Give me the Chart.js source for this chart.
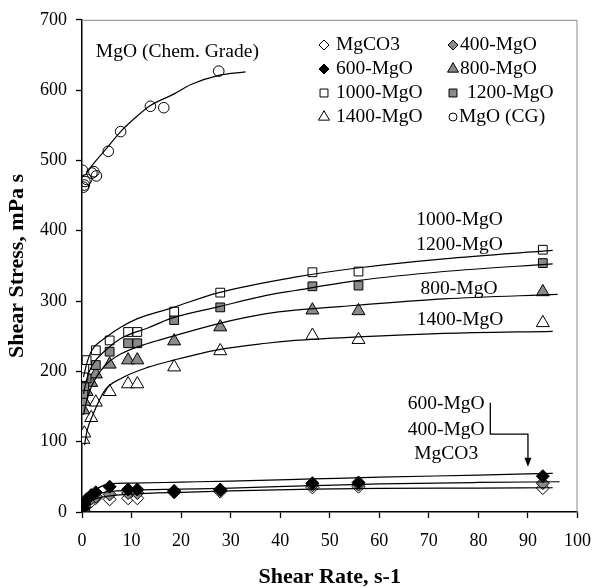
<!DOCTYPE html>
<html><head><meta charset="utf-8">
<script src="https://cdn.jsdelivr.net/npm/chart.js@4.4.1/dist/chart.umd.min.js"></script>
<style>html,body{margin:0;padding:0;background:#fff}#wrap{width:603px;height:588px}</style>
</head><body><div id="wrap"><canvas id="c" width="603" height="588"></canvas></div>
<script>
// ---------- data ----------
const shearRate = [0.28, 0.47, 0.93, 1.86, 2.79, 5.58, 9.3, 11.16, 18.6, 27.9, 46.5, 55.8, 93];
const mgco3   = [2, 6, 10, 15, 20, 18, 19.5, 19.5, 28, 29, 35, 36, 34];
const mgo400  = [3, 8, 14, 19, 22, 25, 27, 27, 29, 31, 38, 39, 41];
const mgo600  = [5, 12, 18, 24, 28, 36, 32, 32, 30, 32, 41, 42, 51];
const mgo800  = [145, 157, 171, 184, 196, 210, 216, 216, 243, 263, 287, 286, 313];
const mgo1000 = [192, 204, 216, null, 230, 244, 256, 256, 285, 312, 341, 342, 373];
const mgo1200 = [168, 179, 190, null, 209, 228, 240, 240, 273, 291, 321, 322, 354];
const mgo1400 = [103, 112, null, 134, 156, 171, 182, 182, 206, 229, 251, 245, 269];
const cgRate   = [0.1, 0.28, 0.47, 0.6, 0.93, 2.0, 2.4, 2.9, 5.3, 7.8, 13.8, 16.5, 27.6];
const cgStress = [486, 462, 465, 470, 473, 482, 484, 478, 513, 541, 577, 575, 627];

// fitted trend curves
const fitCgX    = [0.9, 3, 5.3, 7.8, 10.8, 13.8, 18.7, 22, 27.6, 33];
const fitCgY    = [483, 501, 520, 541, 561, 578, 595, 608, 621, 626];
const fit1000X  = [0.3, 1, 2, 4.6, 7.9, 11.2, 18, 27.6, 43, 55.6, 73, 95];
const fit1000Y  = [192, 212, 230, 247, 263, 275, 290, 312, 334, 347, 360, 372];
const fit1200X  = [0.3, 1, 2, 4.6, 7.9, 13.4, 17.8, 27.6, 37.2, 43, 55.6, 73, 95];
const fit1200Y  = [168, 190, 208, 229, 247, 262, 275, 292, 308, 315, 329, 342, 353];
const fit800X   = [0.3, 1, 2, 4.6, 7.9, 13.4, 17.8, 27.6, 37.2, 43, 55.6, 73, 96];
const fit800Y   = [138, 160, 180, 208, 225, 240, 249, 268, 282, 287, 294, 303, 309.5];
const fit1400X  = [0.5, 1, 2, 4.6, 7.9, 13.4, 18.5, 27.6, 37.2, 43, 55.6, 73, 95];
const fit1400Y  = [95, 115, 135, 173, 190, 206, 216, 231, 240, 244, 249, 254, 257];
const fit600X   = [0.28, 1, 2, 3.5, 5.5, 10, 20, 30, 46.5, 60, 80, 95];
const fit600Y   = [3, 17, 27, 35, 40, 41, 42.5, 44, 47, 49.5, 52.5, 55];
const fit400X   = [0.28, 1, 2, 4, 7, 10, 20, 30, 46.5, 60, 80, 96.4];
const fit400Y   = [3, 14, 21, 27, 30, 31, 32.5, 34, 37.5, 40, 42, 43];
const fitCo3X   = [0.28, 1, 2, 4, 7, 10, 20, 30, 46.5, 60, 80, 95];
const fitCo3Y   = [2, 10, 16, 21, 24, 25.5, 28, 30, 32.5, 33.5, 34, 34.5];

const seriesNames = ['MgCO3', '400-MgO', '600-MgO', '800-MgO', '1000-MgO', '1200-MgO', '1400-MgO', 'MgO (CG)'];
const xTitle = 'Shear Rate, s-1';
const yTitle = 'Shear Stress, mPa s';

// ---------- styling / layout ----------
const FONT = '"Liberation Serif", "Times New Roman", Times, serif';
const GREY = '#8a8a8a';
const pts = (xs, ys) => xs.map((v, i) => ({x: v, y: ys[i]})).filter(p => p.y !== null);

const markerStyle = {
  'MgCO3':    {pointStyle: 'rectRot',  bg: '#ffffff', r: 6.5, lr: 5},
  '400-MgO':  {pointStyle: 'rectRot',  bg: GREY,      r: 6.5, lr: 5},
  '600-MgO':  {pointStyle: 'rectRot',  bg: '#000000', r: 6.5, lr: 5},
  '800-MgO':  {pointStyle: 'triangle', bg: GREY,      r: 7.5, lr: 6.3},
  '1000-MgO': {pointStyle: 'rect',     bg: '#ffffff', r: 6.2, lr: 5.6},
  '1200-MgO': {pointStyle: 'rect',     bg: GREY,      r: 6.2, lr: 5.6},
  '1400-MgO': {pointStyle: 'triangle', bg: '#ffffff', r: 7.5, lr: 6.3},
  'MgO (CG)': {pointStyle: 'circle',   bg: 'rgba(0,0,0,0)', r: 5.3, lr: 4}
};
const seriesData = {
  'MgCO3': pts(shearRate, mgco3), '400-MgO': pts(shearRate, mgo400), '600-MgO': pts(shearRate, mgo600),
  '800-MgO': pts(shearRate, mgo800), '1000-MgO': pts(shearRate, mgo1000), '1200-MgO': pts(shearRate, mgo1200),
  '1400-MgO': pts(shearRate, mgo1400), 'MgO (CG)': pts(cgRate, cgStress)
};
const drawOrder = {'600-MgO': 1, '400-MgO': 2, 'MgCO3': 3, '1000-MgO': 1, '1200-MgO': 2, '800-MgO': 3, '1400-MgO': 4, 'MgO (CG)': 1};

const datasets = [];
[[fitCgX, fitCgY], [fit1000X, fit1000Y], [fit1200X, fit1200Y], [fit800X, fit800Y], [fit1400X, fit1400Y],
 [fit600X, fit600Y], [fit400X, fit400Y], [fitCo3X, fitCo3Y]].forEach(([xs, ys]) => {
  datasets.push({data: pts(xs, ys), showLine: true, borderColor: '#000', borderWidth: 1.2,
    pointRadius: 0, cubicInterpolationMode: 'monotone', order: 0, fill: false});
});
seriesNames.forEach(n => {
  const m = markerStyle[n];
  datasets.push({label: n, data: seriesData[n], showLine: false, pointStyle: m.pointStyle,
    pointRadius: m.r, pointBackgroundColor: m.bg, pointBorderColor: '#000', pointBorderWidth: 1,
    order: drawOrder[n]});
});

// text labels placed in data coordinates
const notes = [
  {text: 'MgO (Chem. Grade)', x: 2.8, y: 655, align: 'left'},
  {text: '1000-MgO', x: 76.2, y: 415.6, align: 'center'},
  {text: '1200-MgO', x: 76.2, y: 380, align: 'center'},
  {text: '800-MgO', x: 76.1, y: 317.6, align: 'center'},
  {text: '1400-MgO', x: 76.3, y: 272.6, align: 'center'},
  {text: '600-MgO', x: 73.5, y: 153.3, align: 'center'},
  {text: '400-MgO', x: 73.5, y: 117.4, align: 'center'},
  {text: 'MgCO3', x: 73.5, y: 83.3, align: 'center'}
];
const arrowPath = [[82.4, 155.2], [82.4, 110.7], [90, 110.7], [90, 64.3]];
// legend layout (pixels)
const legendRows = [45, 69, 93, 117];
const legendCols = [{mx: 324, tx: [336, 336, 336, 336]}, {mx: 453, tx: [460, 460, 467, 459]}];
const legendGrid = [['MgCO3', '400-MgO'], ['600-MgO', '800-MgO'], ['1000-MgO', '1200-MgO'], ['1400-MgO', 'MgO (CG)']];

const decor = {
  id: 'decor',
  afterDatasetsDraw(chart) {
    const {ctx, chartArea: a, scales: {x, y}} = chart;
    ctx.save();
    ctx.strokeStyle = GREY; ctx.lineWidth = 1;
    ctx.beginPath();
    ctx.moveTo(a.left, a.top + 0.5); ctx.lineTo(a.right - 0.5, a.top + 0.5); ctx.lineTo(a.right - 0.5, a.bottom);
    ctx.stroke();
    ctx.fillStyle = '#000';
    ctx.font = '19.5px ' + FONT; ctx.textBaseline = 'middle';
    notes.forEach(n => { ctx.textAlign = n.align; ctx.fillText(n.text, x.getPixelForValue(n.x), y.getPixelForValue(n.y)); });
    // connector arrow
    const P = arrowPath.map(([vx, vy]) => [x.getPixelForValue(vx), y.getPixelForValue(vy)]);
    ctx.strokeStyle = '#000'; ctx.lineWidth = 1.3;
    ctx.beginPath();
    ctx.moveTo(P[0][0], P[0][1]); ctx.lineTo(P[1][0], P[1][1]); ctx.lineTo(P[2][0], P[2][1]);
    ctx.lineTo(P[3][0], P[3][1] - 8);
    ctx.stroke();
    ctx.beginPath();
    ctx.moveTo(P[3][0], P[3][1]); ctx.lineTo(P[3][0] - 3.5, P[3][1] - 9); ctx.lineTo(P[3][0] + 3.5, P[3][1] - 9); ctx.closePath();
    ctx.fill();
    // legend
    ctx.textAlign = 'left';
    legendGrid.forEach((row, ri) => row.forEach((name, ci) => {
      const m = markerStyle[name]; const col = legendCols[ci]; const yy = legendRows[ri];
      ctx.fillStyle = m.bg; ctx.strokeStyle = '#000'; ctx.lineWidth = 1;
      Chart.helpers.drawPoint(ctx, {pointStyle: m.pointStyle, radius: m.lr, rotation: 0, borderWidth: 1}, col.mx, yy);
      ctx.fillStyle = '#000';
      ctx.fillText(name, col.tx[ri], yy);
    }));
    ctx.restore();
  }
};

new Chart(document.getElementById('c'), {
  type: 'scatter',
  data: {datasets},
  plugins: [decor],
  options: {
    responsive: false, animation: false, devicePixelRatio: 1,
    layout: {padding: {left: 0, right: 15, top: 19, bottom: 0}},
    plugins: {legend: {display: false}, tooltip: {enabled: false}},
    scales: {
      x: {type: 'linear', min: 0, max: 100,
        ticks: {stepSize: 10, color: '#000', font: {family: FONT, size: 18}, padding: 12, maxRotation: 0},
        grid: {drawOnChartArea: false, drawTicks: true, tickLength: 6, tickColor: '#000', tickWidth: 1.3},
        border: {color: '#000', width: 1.5},
        title: {display: true, text: xTitle, color: '#000', font: {family: FONT, size: 22, weight: 'bold', lineHeight: 1.0}, padding: {top: 0, bottom: 0}},
        afterFit(s) { s.height = 76; }
      },
      y: {type: 'linear', min: 0, max: 700,
        ticks: {stepSize: 100, color: '#000', font: {family: FONT, size: 18}, padding: 9},
        grid: {drawOnChartArea: false, drawTicks: true, tickLength: 6, tickColor: '#000', tickWidth: 1.3},
        border: {color: '#000', width: 1.5},
        title: {display: true, text: yTitle, color: '#000', font: {family: FONT, size: 22, weight: 'bold'}, padding: {top: 4, bottom: 0}},
        afterFit(s) { s.width = 82; }
      }
    }
  }
});
</script></body></html>
